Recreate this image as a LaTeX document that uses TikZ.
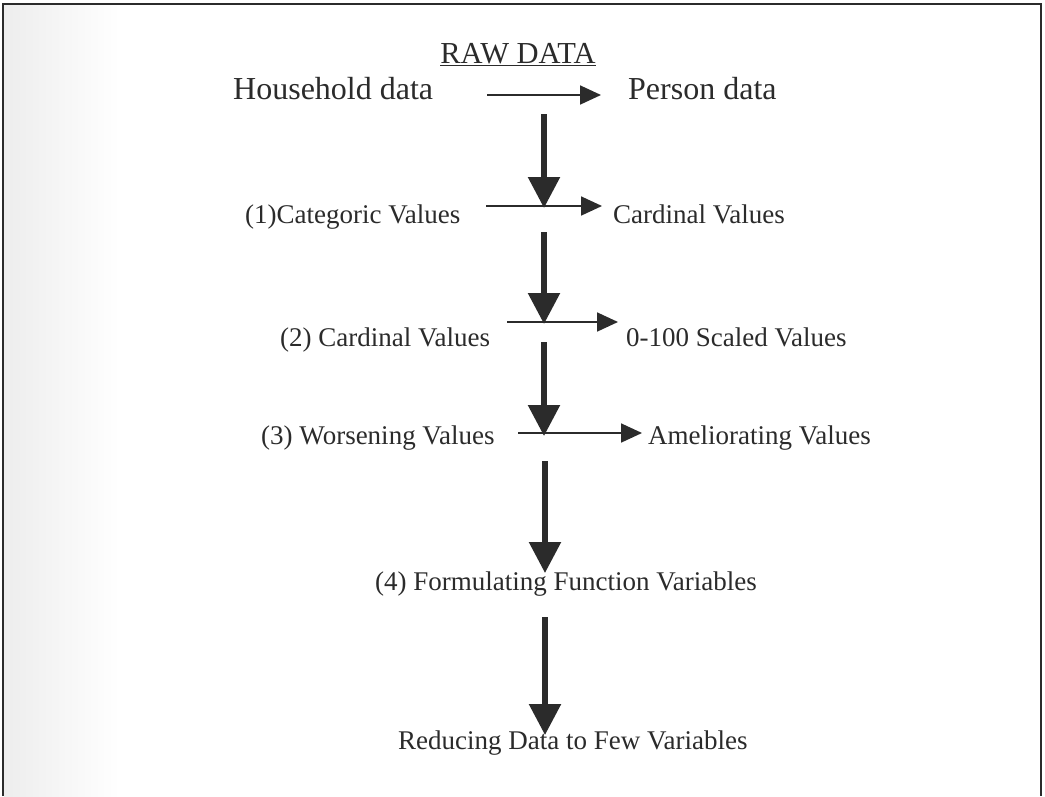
\documentclass[tikz,border=0pt]{standalone}
\usepackage{fontspec}
\setmainfont{Liberation Serif}
\usetikzlibrary{arrows.meta}
\definecolor{ink}{HTML}{2B2B2B}
\begin{document}
\begin{tikzpicture}[x=1pt,y=-1pt,
  txt/.style={inner sep=0pt,anchor=base west,text=ink},
  big/.style={txt,font=\fontsize{32}{36}\selectfont},
  mid/.style={txt,font=\fontsize{27}{32}\selectfont},
  harrow/.style={draw=ink,line width=1.8pt,-{Triangle[length=21pt,width=19pt]}},
  varrow/.style={draw=ink,line width=5.5pt,-{Triangle[length=31pt,width=31pt]}},
  frame/.style={draw=ink,line width=2pt}]
\useasboundingbox (0,0) rectangle (1045,796);
\fill[white] (0,0) rectangle (1045,796);
\shade[left color=black!7,right color=white] (4,5) rectangle (120,796);
\draw[frame] (3,796) -- (3,4) -- (1041,4) -- (1041,796);
% title
\node[txt,font=\fontsize{30.5}{34}\selectfont,anchor=base] (raw) at (518,63) {\underline{RAW DATA}};
\node[big] (hh) at (233,99) {Household data};
\node[big] (pd) at (628,99) {Person data};
\coordinate (h0s) at (487,95); \coordinate (h0e) at (601,95);
\draw[harrow] (h0s) -- (h0e);
% row 1
\coordinate (v1s) at (544,114); \coordinate (v1e) at (544,208);
\draw[varrow] (v1s) -- (v1e);
\node[mid] (cat) at (245,223) {(1)Categoric Values};
\node[mid] (car1) at (613,223) {Cardinal Values};
\coordinate (h1s) at (486,206); \coordinate (h1e) at (602,206);
\draw[harrow] (h1s) -- (h1e);
% row 2
\coordinate (v2s) at (544,232); \coordinate (v2e) at (544,324);
\draw[varrow] (v2s) -- (v2e);
\node[mid] (car2) at (280,346) {(2) Cardinal Values};
\node[mid] (sc) at (626,346) {0-100 Scaled Values};
\coordinate (h2s) at (507,322); \coordinate (h2e) at (618,322);
\draw[harrow] (h2s) -- (h2e);
% row 3
\coordinate (v3s) at (544,342); \coordinate (v3e) at (544,436);
\draw[varrow] (v3s) -- (v3e);
\node[mid] (wor) at (261,444) {(3) Worsening Values};
\node[mid] (ame) at (648,444) {Ameliorating Values};
\coordinate (h3s) at (518,433); \coordinate (h3e) at (642,433);
\draw[harrow] (h3s) -- (h3e);
% row 4
\coordinate (v4s) at (545,461); \coordinate (v4e) at (545,573);
\draw[varrow] (v4s) -- (v4e);
\node[mid] (form) at (375,590) {(4) Formulating Function Variables};
% row 5
\coordinate (v5s) at (545,617); \coordinate (v5e) at (545,735);
\draw[varrow] (v5s) -- (v5e);
\node[mid] (red) at (398,749) {Reducing Data to Few Variables};
\end{tikzpicture}
\end{document}
